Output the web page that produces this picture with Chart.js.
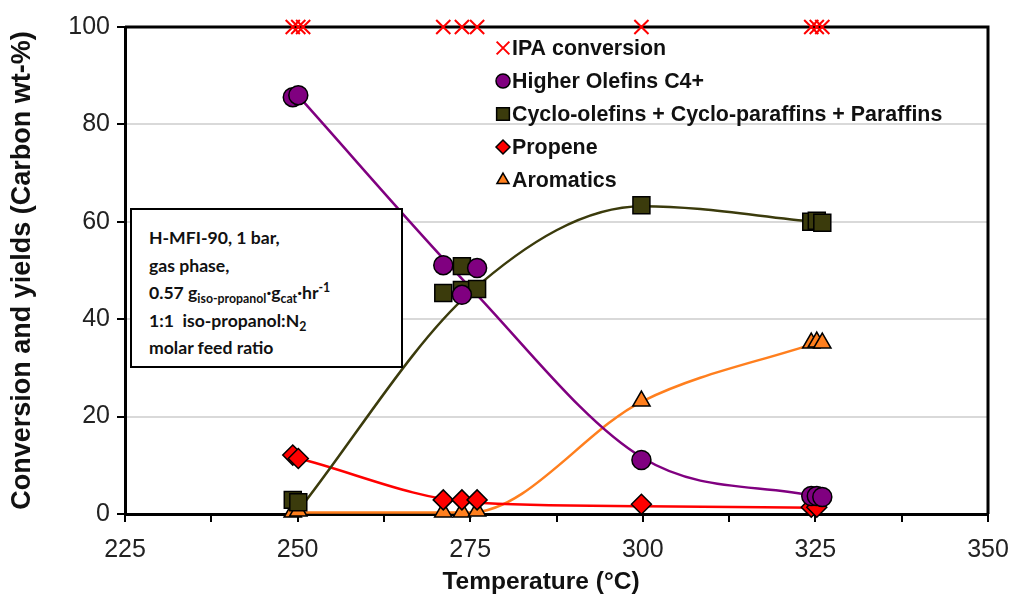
<!DOCTYPE html>
<html>
<head>
<meta charset="utf-8">
<script src="https://cdn.jsdelivr.net/npm/chart.js@4.4.1/dist/chart.umd.min.js"></script>
<style>
    html, body { margin: 0; padding: 0; background: #fff; }
    #wrap { position: relative; width: 1012px; height: 598px; }
    #note {
        position: absolute; left: 130px; top: 208px; width: 273px; height: 160px;
        border: 2px solid #000; background: #fff;
        font-family: Lato, "Open Sans", sans-serif; font-weight: bold; font-size: 17.6px;
        line-height: 27.5px; padding: 14px 0 0 17px; box-sizing: border-box; color: #111;
    }
    #note sub { font-size: 0.7em; line-height: 0; vertical-align: -0.3em; }
    #note sup { font-size: 0.7em; line-height: 0; vertical-align: 0.6em; }
</style>
</head>
<body>
<div id="wrap">
    <canvas id="chart" width="1012" height="598"></canvas>
    <div id="note">
        H-MFI-90, 1 bar,<br>
        gas phase,<br>
        0.57 g<sub>iso-propanol</sub>·g<sub>cat</sub>·hr<sup>-1</sup><br>
        1:1&nbsp; iso-propanol:N<sub>2</sub><br>
        molar feed ratio
    </div>
</div>
<script>
// Measured points (temperature in °C, carbon wt-%)
const ipaT = [249.3, 250.1, 250.8, 271.1, 273.8, 276.0, 299.8, 324.4, 325.2, 326.0];
const ipaY = [100, 100, 100, 100, 100, 100, 100, 100, 100, 100];

const olefinT = [249.3, 250.1, 271.1, 273.8, 276.0, 299.8, 324.4, 325.2, 326.0];
const olefinY = [85.6, 86.0, 51.1, 45.0, 50.5, 11.1, 3.7, 3.7, 3.5];

const cycloT = [249.3, 250.1, 271.1, 273.8, 273.8, 276.0, 299.8, 324.4, 325.2, 326.0];
const cycloY = [2.9, 2.4, 45.4, 50.9, 46.0, 46.2, 63.4, 60.0, 60.2, 59.8];

const propeneT = [249.3, 250.1, 271.1, 273.8, 276.0, 299.8, 324.4, 325.2];
const propeneY = [12.1, 11.4, 2.9, 2.9, 2.9, 2.0, 1.4, 1.4];

const aromT = [249.3, 250.1, 271.1, 273.8, 276.0, 299.8, 324.4, 325.2, 326.0];
const aromY = [0.4, 0.6, 0.4, 0.4, 0.6, 23.2, 35.1, 35.3, 35.1];

// Trend curves drawn through the data
const fitT = [250, 275, 300, 325];
const olefinFit = [86.0, 46.5, 11.5, 3.6];
const cycloFit = [0.5, 45.5, 63.2, 60.0];
const propeneFit = [11.5, 2.4, 1.6, 1.3];
const aromFit = [0.3, 0.3, 23.2, 35.1];

const xTicks = [225, 250, 275, 300, 325, 350];
const yTicks = [0, 20, 40, 60, 80, 100];

const PURPLE = '#800080';
const OLIVE = '#3b3b0c';
const RED = '#ff0000';
const ORANGE = '#ff7f1e';
const FONT = '"Liberation Sans", Arial, sans-serif';

function pts(xs, ys) {
    return xs.map((x, i) => ({ x: x, y: ys[i] }));
}

function marks(label, xs, ys, style, fill, border, radius, bw) {
    return {
        type: 'scatter', label: label, data: pts(xs, ys), showLine: false,
        pointStyle: style, pointRadius: radius, pointHoverRadius: radius,
        backgroundColor: fill, borderColor: border, pointBorderWidth: bw
    };
}

function curve(ys, color) {
    return {
        type: 'line', label: '', data: pts(fitT, ys), showLine: true,
        borderColor: color, borderWidth: 2.5, pointRadius: 0, fill: false,
        cubicInterpolationMode: 'monotone'
    };
}

const legendItems = [
    { text: 'IPA conversion', style: 'crossRot', fill: RED, border: RED, bw: 2, r: 9 },
    { text: 'Higher Olefins C4+', style: 'circle', fill: PURPLE, border: '#000', bw: 1.5, r: 7 },
    { text: 'Cyclo-olefins + Cyclo-paraffins + Paraffins', style: 'rect', fill: OLIVE, border: '#000', bw: 1.5, r: 9 },
    { text: 'Propene', style: 'rectRot', fill: RED, border: '#000', bw: 1.5, r: 7 },
    { text: 'Aromatics', style: 'triangle', fill: ORANGE, border: '#000', bw: 1.5, r: 7 }
];

// frame on top and right side of the plot
const framePlugin = {
    id: 'frame',
    beforeDatasetsDraw(chart) {
        const { ctx, chartArea: a } = chart;
        ctx.save();
        ctx.strokeStyle = '#000';
        ctx.lineWidth = 3;
        ctx.beginPath();
        ctx.moveTo(a.left, a.top);
        ctx.lineTo(a.right, a.top);
        ctx.lineTo(a.right, a.bottom);
        ctx.stroke();
        ctx.restore();
    }
};

// legend inside the plot + x axis title
const innerLegend = {
    id: 'innerLegend',
    afterDraw(chart) {
        const ctx = chart.ctx;
        ctx.save();
        ctx.font = 'bold 21.4px ' + FONT;
        ctx.textBaseline = 'middle';
        legendItems.forEach((it, i) => {
            const y = 48 + i * 33;
            ctx.fillStyle = it.fill;
            ctx.strokeStyle = it.border;
            ctx.lineWidth = it.bw;
            Chart.helpers.drawPoint(ctx, { pointStyle: it.style, radius: it.r, borderWidth: it.bw, rotation: 0 }, 503, y);
            ctx.fillStyle = '#111';
            ctx.fillText(it.text, 512, y + 1);
        });
        ctx.font = 'bold 24.5px ' + FONT;
        ctx.textAlign = 'center';
        ctx.fillText('Temperature (°C)', 541, 582);
        ctx.restore();
    }
};

new Chart(document.getElementById('chart'), {
    data: {
        datasets: [
            marks('IPA conversion', ipaT, ipaY, 'crossRot', RED, RED, 10, 2),
            marks('Higher Olefins C4+', olefinT, olefinY, 'circle', PURPLE, '#000', 9.5, 1.5),
            marks('Cyclo-olefins + Cyclo-paraffins + Paraffins', cycloT, cycloY, 'rect', OLIVE, '#000', 12, 1.5),
            marks('Propene', propeneT, propeneY, 'rectRot', RED, '#000', 10, 1.5),
            marks('Aromatics', aromT, aromY, 'triangle', ORANGE, '#000', 10, 1.5),
            curve(olefinFit, PURPLE),
            curve(cycloFit, OLIVE),
            curve(propeneFit, RED),
            curve(aromFit, ORANGE)
        ]
    },
    options: {
        responsive: false,
        animation: false,
        clip: false,
        layout: { autoPadding: false, padding: { top: 27, right: 24, left: 0, bottom: 0 } },
        plugins: { legend: { display: false }, tooltip: { enabled: false } },
        scales: {
            x: {
                type: 'linear', min: 225, max: 350,
                afterFit(scale) {
                    scale.height = 84;
                    scale.paddingLeft = 0;
                    scale.paddingRight = 0;
                },
                afterBuildTicks(scale) {
                    const t = [];
                    for (let v = 225; v <= 350; v += 12.5) t.push({ value: v });
                    scale.ticks = t;
                },
                ticks: {
                    autoSkip: false, maxRotation: 0, padding: 13, color: '#222',
                    font: { family: FONT, size: 25 },
                    callback: v => xTicks.includes(v) ? String(v) : ''
                },
                grid: { drawOnChartArea: false, tickLength: 8, tickColor: '#000', lineWidth: 2 },
                border: { color: '#000', width: 3 },
                title: { display: false }
            },
            y: {
                type: 'linear', min: 0, max: 100,
                afterFit(scale) {
                    scale.width = 125;
                    scale.paddingTop = 0;
                    scale.paddingBottom = 0;
                },
                afterBuildTicks(scale) { scale.ticks = yTicks.map(v => ({ value: v })); },
                ticks: {
                    padding: 7, color: '#222',
                    font: { family: FONT, size: 25 }
                },
                grid: { color: '#d9d9d9', lineWidth: 2, tickLength: 8, tickColor: '#000' },
                border: { color: '#000', width: 3 },
                title: {
                    display: true, text: 'Conversion and yields (Carbon wt-%)', color: '#111',
                    font: { family: FONT, size: 27, weight: 'bold' },
                    padding: { top: 6, bottom: 0 }
                }
            }
        }
    },
    plugins: [framePlugin, innerLegend]
});
</script>
</body>
</html>
